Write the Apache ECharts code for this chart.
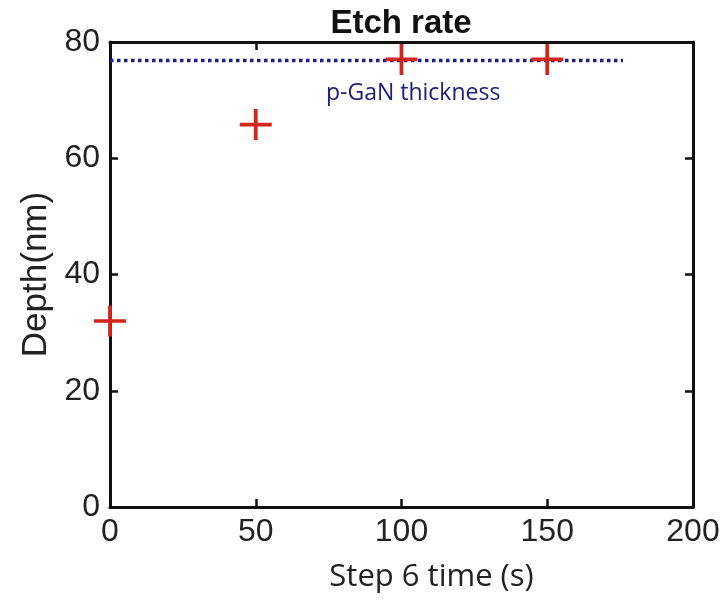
<!DOCTYPE html>
<html>
<head>
<meta charset="utf-8">
<script src="https://cdn.jsdelivr.net/npm/echarts@6/dist/echarts.min.js"></script>
<style>
  html, body { margin: 0; padding: 0; background: #ffffff; }
  #chart { width: 728px; height: 600px; }
</style>
</head>
<body>
<div id="chart"></div>
<script>
// Etch depth measured after each step-6 duration
const stepTimes = [0, 50, 100, 150];
const depths = [32, 65.8, 77, 77];

// p-GaN layer thickness reference line
const thicknessSpan = [0, 176];
const thicknessValue = 76.8;
const thicknessLabel = 'p-GaN thickness';
const thicknessLabelAt = [104, 71.1];

const xTicks = [0, 50, 100, 150, 200];
const yTicks = [0, 20, 40, 60, 80];

const plusPath = 'path://M0,14.1L14.1,14.1L14.1,0L17.9,0L17.9,14.1L32,14.1L32,17.9L17.9,17.9L17.9,32L14.1,32L14.1,17.9L0,17.9Z';

const sans = '"Liberation Sans", Arial, sans-serif';
const body = '"Open Sans", "Noto Sans", sans-serif';

const chart = echarts.init(document.getElementById('chart'));

const baseAxis = {
  axisLine: { show: true, onZero: false, lineStyle: { color: '#111', width: 3 } },
  axisTick: { show: true, inside: true, length: 8, lineStyle: { color: '#111', width: 2.5 } },
  splitLine: { show: false }
};

chart.setOption({
  backgroundColor: '#ffffff',
  animation: false,
  title: {
    text: 'Etch rate',
    left: 396, textAlign: 'center', top: 2,
    textStyle: { fontFamily: sans, fontWeight: 'bold', fontSize: 33, color: '#111' }
  },
  grid: { left: 110, right: 35, top: 42, bottom: 93 },
  xAxis: [
    Object.assign({}, baseAxis, {
      type: 'value', min: xTicks[0], max: xTicks[xTicks.length - 1], interval: 50,
      position: 'bottom',
      axisLabel: { margin: 9, fontFamily: sans, fontSize: 32, color: '#222' },
      name: 'Step 6 time (s)', nameLocation: 'middle', nameGap: 55,
      nameTextStyle: { fontFamily: body, fontSize: 31, color: '#222', padding: [0, 0, 0, 60] }
    }),
    Object.assign({}, baseAxis, {
      type: 'value', min: xTicks[0], max: xTicks[xTicks.length - 1], interval: 50,
      position: 'top', axisLabel: { show: false }
    })
  ],
  yAxis: [
    Object.assign({}, baseAxis, {
      type: 'value', min: yTicks[0], max: yTicks[yTicks.length - 1], interval: 20,
      position: 'left',
      axisLabel: { margin: 10, fontFamily: sans, fontSize: 32, color: '#222' },
      name: 'Depth(nm)', nameLocation: 'middle', nameGap: 56, nameRotate: 90,
      nameTextStyle: { fontFamily: sans, fontSize: 35, color: '#222' }
    }),
    Object.assign({}, baseAxis, {
      type: 'value', min: yTicks[0], max: yTicks[yTicks.length - 1], interval: 20,
      position: 'right', axisLabel: { show: false }
    })
  ],
  series: [
    {
      type: 'line',
      data: thicknessSpan.map(x => [x, thicknessValue]),
      symbol: 'none',
      lineStyle: { color: '#1c1f8a', width: 3.5, type: [3.5, 3.5] },
      z: 2
    },
    {
      type: 'scatter',
      data: [thicknessLabelAt],
      symbolSize: 1,
      itemStyle: { color: 'rgba(0,0,0,0)', opacity: 1 },
      label: {
        show: true, position: 'inside', formatter: thicknessLabel,
        fontFamily: body, fontSize: 23, fontWeight: 500, color: '#1e2078'
      },
      emphasis: { disabled: true },
      z: 2
    },
    {
      type: 'scatter',
      data: stepTimes.map((t, i) => [t, depths[i]]),
      symbol: plusPath,
      symbolSize: [32, 31],
      itemStyle: { color: '#d0261b', opacity: 1 },
      z: 3,
      clip: false
    }
  ]
});
</script>
</body>
</html>
